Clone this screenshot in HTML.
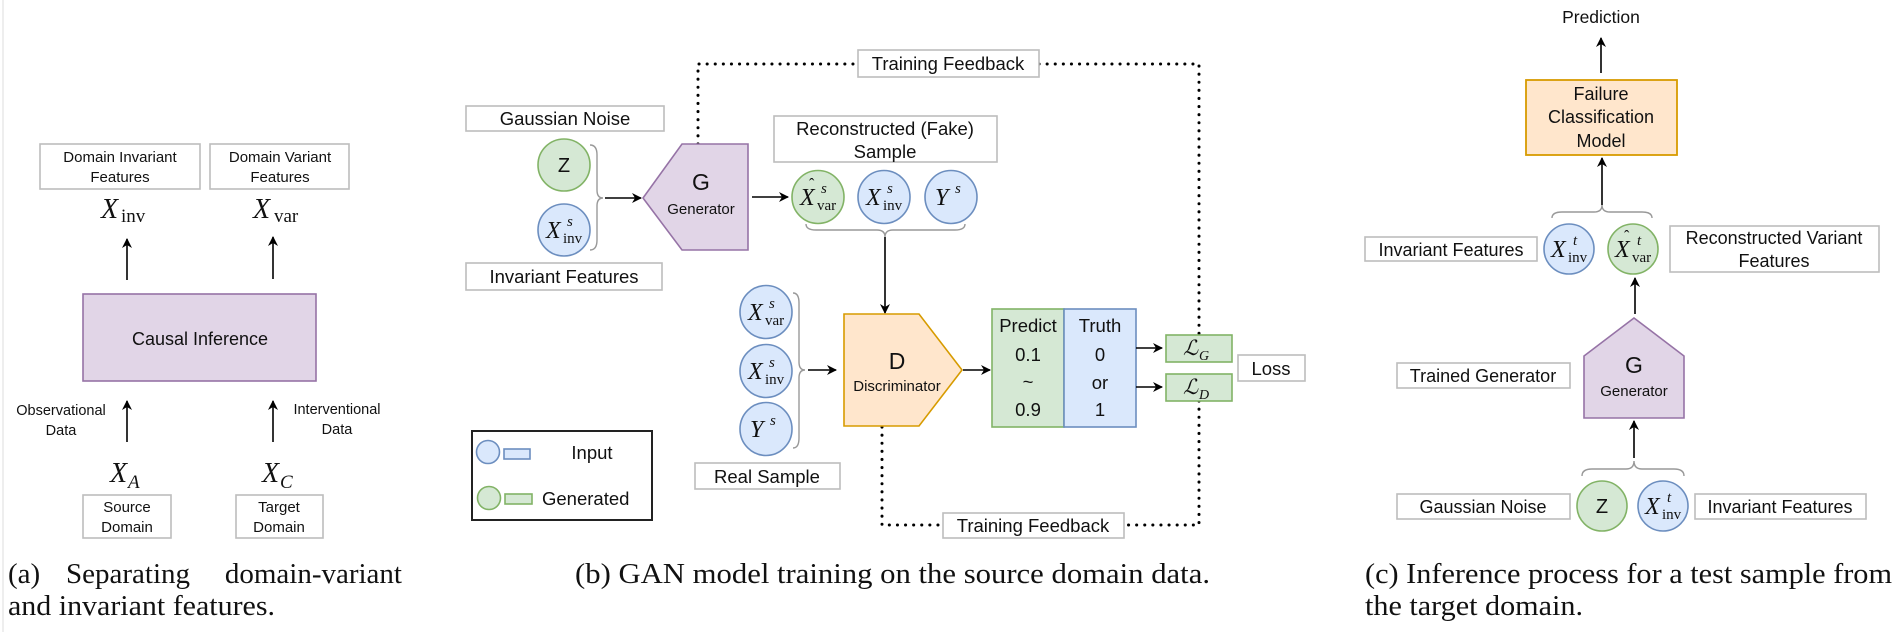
<!DOCTYPE html>
<html><head><meta charset="utf-8"><style>
html,body{margin:0;padding:0;background:#fff;}
svg{display:block;}
.s{font-family:"Liberation Sans",sans-serif;fill:#111;}
.m{font-family:"Liberation Serif","DejaVu Serif",serif;fill:#111;}
.cap{font-family:"Liberation Serif",serif;fill:#111;font-size:29px;}
.bx{fill:#fff;stroke:#bdbdbd;stroke-width:1.6;}
.bl{fill:#dae8fc;stroke:#6c8ebf;stroke-width:1.6;}
.gr{fill:#d5e8d4;stroke:#82b366;stroke-width:1.6;}
.ar{stroke:#000;stroke-width:1.6;fill:none;marker-end:url(#ah);}
.br{stroke:#999;stroke-width:1.4;fill:none;}
.dt{stroke:#000;stroke-width:3;fill:none;stroke-dasharray:0.1 8;stroke-linecap:round;}
</style></head><body>
<svg width="1895" height="632" viewBox="0 0 1895 632" xmlns="http://www.w3.org/2000/svg">
<defs><marker id="ah" markerWidth="10" markerHeight="10" refX="9" refY="5" orient="auto" markerUnits="userSpaceOnUse"><path d="M0,0 L10,5 L0,10 L3,5 Z" fill="#000"/></marker></defs>
<line x1="3" y1="0" x2="3" y2="632" stroke="#eee" stroke-width="2"/>

<!-- Panel (a) -->
<rect class="bx" x="40" y="144" width="160" height="45"/>
<text class="s" font-size="15" text-anchor="middle" x="120" y="162">Domain Invariant</text>
<text class="s" font-size="15" text-anchor="middle" x="120" y="182">Features</text>
<rect class="bx" x="210" y="144" width="139" height="45"/>
<text class="s" font-size="15" text-anchor="middle" x="280" y="162">Domain Variant</text>
<text class="s" font-size="15" text-anchor="middle" x="280" y="182">Features</text>
<text class="m" x="101" y="218" font-size="28" font-style="italic">X</text><text class="m" x="121" y="222" font-size="19">inv</text>
<text class="m" x="253" y="218" font-size="28" font-style="italic">X</text><text class="m" x="274" y="222" font-size="19">var</text>
<line class="ar" x1="127" y1="280" x2="127" y2="239"/>
<line class="ar" x1="273" y1="279" x2="273" y2="237"/>
<rect x="83" y="294" width="233" height="87" fill="#e1d5e7" stroke="#9673a6" stroke-width="1.6"/>
<text class="s" font-size="18" text-anchor="middle" x="200" y="345">Causal Inference</text>
<line class="ar" x1="127" y1="442" x2="127" y2="401"/>
<text class="s" font-size="14.5" text-anchor="middle" x="61" y="415">Observational</text>
<text class="s" font-size="14.5" text-anchor="middle" x="61" y="435">Data</text>
<line class="ar" x1="273" y1="442" x2="273" y2="401"/>
<text class="s" font-size="14.5" text-anchor="middle" x="337" y="414">Interventional</text>
<text class="s" font-size="14.5" text-anchor="middle" x="337" y="434">Data</text>
<text class="m" x="110" y="482" font-size="28" font-style="italic">X</text><text class="m" x="128" y="488" font-size="19" font-style="italic">A</text>
<text class="m" x="262" y="482" font-size="28" font-style="italic">X</text><text class="m" x="280" y="488" font-size="19" font-style="italic">C</text>
<rect class="bx" x="83" y="495" width="88" height="43"/>
<text class="s" font-size="15" text-anchor="middle" x="127" y="512">Source</text>
<text class="s" font-size="15" text-anchor="middle" x="127" y="532">Domain</text>
<rect class="bx" x="236" y="495" width="87" height="43"/>
<text class="s" font-size="15" text-anchor="middle" x="279" y="512">Target</text>
<text class="s" font-size="15" text-anchor="middle" x="279" y="532">Domain</text>
<text class="cap" x="8" y="583">(a)</text>
<text class="cap" x="66" y="583">Separating</text>
<text class="cap" x="402" y="583" text-anchor="end">domain-variant</text>
<text class="cap" x="8" y="615" textLength="267" lengthAdjust="spacingAndGlyphs">and invariant features.</text>

<!-- Panel (b) -->
<polyline class="dt" points="698,144 698,64 858,64"/>
<polyline class="dt" points="1039,64 1199,64 1199,335"/>
<rect class="bx" x="858" y="50" width="181" height="27"/>
<text class="s" font-size="18.5" text-anchor="middle" x="948" y="70">Training Feedback</text>
<polyline class="dt" points="1199,401 1199,525 1124,525"/>
<polyline class="dt" points="882,427 882,525 943,525"/>
<rect class="bx" x="943" y="513" width="181" height="25"/>
<text class="s" font-size="18.5" text-anchor="middle" x="1033" y="532">Training Feedback</text>

<rect class="bx" x="466" y="106" width="198" height="25"/>
<text class="s" font-size="18.5" text-anchor="middle" x="565" y="125">Gaussian Noise</text>
<ellipse class="gr" cx="564" cy="165" rx="26" ry="26"/>
<text class="s" font-size="20" text-anchor="middle" x="564" y="172">Z</text>
<ellipse class="bl" cx="564" cy="230" rx="26" ry="26"/>
<text class="m" x="546" y="238" font-size="24" font-style="italic">X</text><text class="m" x="567" y="226" font-size="15" font-style="italic">s</text><text class="m" x="563" y="243" font-size="15">inv</text>
<path class="br" d="M590,145 Q597,145 597,155 L597,190 Q597,198 603,198 Q597,198 597,206 L597,240 Q597,250 590,250"/>
<line class="ar" x1="605" y1="198" x2="641" y2="198"/>
<rect class="bx" x="466" y="263" width="196" height="27"/>
<text class="s" font-size="18.5" text-anchor="middle" x="564" y="283">Invariant Features</text>
<polygon points="682,144 748,144 748,250 682,250 643,198" fill="#e1d5e7" stroke="#9673a6" stroke-width="1.6"/>
<text class="s" font-size="23" text-anchor="middle" x="701" y="190">G</text>
<text class="s" font-size="15" text-anchor="middle" x="701" y="214">Generator</text>
<line class="ar" x1="752" y1="197" x2="788" y2="197"/>
<rect class="bx" x="774" y="116" width="223" height="46"/>
<text class="s" font-size="18.5" text-anchor="middle" x="885" y="135">Reconstructed (Fake)</text>
<text class="s" font-size="18.5" text-anchor="middle" x="885" y="158">Sample</text>
<ellipse class="gr" cx="818" cy="197" rx="26" ry="26.5"/>
<text class="m" x="800" y="205" font-size="24" font-style="italic">X</text><text class="m" x="809" y="189" font-size="16">ˆ</text><text class="m" x="821" y="193" font-size="15" font-style="italic">s</text><text class="m" x="817" y="210" font-size="15">var</text>
<ellipse class="bl" cx="884" cy="197" rx="26" ry="26.5"/>
<text class="m" x="866" y="205" font-size="24" font-style="italic">X</text><text class="m" x="887" y="193" font-size="15" font-style="italic">s</text><text class="m" x="883" y="210" font-size="15">inv</text>
<ellipse class="bl" cx="951" cy="197" rx="26" ry="26.5"/>
<text class="m" x="935" y="205" font-size="24" font-style="italic">Y</text><text class="m" x="955" y="193" font-size="15" font-style="italic">s</text>
<path class="br" d="M806,224 Q806,230 816,230 L877,230 Q885,230 885,237 Q885,230 893,230 L955,230 Q965,230 965,224"/>
<line class="ar" x1="885" y1="237" x2="885" y2="313"/>

<ellipse class="bl" cx="766" cy="312" rx="26" ry="26.5"/>
<text class="m" x="748" y="320" font-size="24" font-style="italic">X</text><text class="m" x="769" y="308" font-size="15" font-style="italic">s</text><text class="m" x="765" y="325" font-size="15">var</text>
<ellipse class="bl" cx="766" cy="371" rx="26" ry="26.5"/>
<text class="m" x="748" y="379" font-size="24" font-style="italic">X</text><text class="m" x="769" y="367" font-size="15" font-style="italic">s</text><text class="m" x="765" y="384" font-size="15">inv</text>
<ellipse class="bl" cx="766" cy="429" rx="26" ry="26.5"/>
<text class="m" x="750" y="437" font-size="24" font-style="italic">Y</text><text class="m" x="770" y="425" font-size="15" font-style="italic">s</text>
<path class="br" d="M793,293 Q799,293 799,303 L799,362 Q799,370 805,370 Q799,370 799,378 L799,438 Q799,448 793,448"/>
<line class="ar" x1="808" y1="370" x2="836" y2="370"/>
<rect class="bx" x="695" y="463" width="145" height="26"/>
<text class="s" font-size="18.5" text-anchor="middle" x="767" y="483">Real Sample</text>
<polygon points="844,314 919,314 962,370 919,426 844,426" fill="#ffe6cc" stroke="#d79b00" stroke-width="1.6"/>
<text class="s" font-size="23" text-anchor="middle" x="897" y="369">D</text>
<text class="s" font-size="15" text-anchor="middle" x="897" y="391">Discriminator</text>
<line class="ar" x1="963" y1="370" x2="990" y2="370"/>

<rect x="472" y="431" width="180" height="89" fill="#fff" stroke="#222" stroke-width="2"/>
<circle class="bl" cx="488" cy="452" r="11.5"/>
<rect class="bl" x="504" y="449" width="26" height="10"/>
<text class="s" font-size="18.5" text-anchor="middle" x="592" y="459">Input</text>
<circle class="gr" cx="489" cy="498" r="11.5"/>
<rect class="gr" x="505" y="494" width="27" height="10"/>
<text class="s" font-size="18.5" x="542" y="505">Generated</text>

<rect class="gr" x="992" y="309" width="72" height="118"/>
<rect class="bl" x="1064" y="309" width="72" height="118"/>
<g class="s" font-size="18.5" text-anchor="middle">
<text x="1028" y="332">Predict</text><text x="1028" y="361">0.1</text><text x="1028" y="388">~</text><text x="1028" y="416">0.9</text>
<text x="1100" y="332">Truth</text><text x="1100" y="361">0</text><text x="1100" y="389">or</text><text x="1100" y="416">1</text>
</g>
<line class="ar" x1="1136" y1="348" x2="1162" y2="348"/>
<line class="ar" x1="1136" y1="387" x2="1162" y2="387"/>
<rect class="gr" x="1166" y="335" width="66" height="27"/>
<text class="m" x="1183" y="355" font-size="21" font-style="italic">ℒ</text><text class="m" x="1199" y="360" font-size="14" font-style="italic">G</text>
<rect class="gr" x="1166" y="374" width="66" height="27"/>
<text class="m" x="1183" y="394" font-size="21" font-style="italic">ℒ</text><text class="m" x="1199" y="399" font-size="14" font-style="italic">D</text>
<rect class="bx" x="1238" y="355" width="67" height="26"/>
<text class="s" font-size="18.5" text-anchor="middle" x="1271" y="375">Loss</text>
<text class="cap" x="575" y="583" textLength="635" lengthAdjust="spacingAndGlyphs">(b) GAN model training on the source domain data.</text>

<!-- Panel (c) -->
<text class="s" font-size="17.5" text-anchor="middle" x="1601" y="23">Prediction</text>
<line class="ar" x1="1601" y1="73" x2="1601" y2="38"/>
<rect x="1526" y="80" width="151" height="75" fill="#ffe6cc" stroke="#d79b00" stroke-width="1.8"/>
<text class="s" font-size="18" text-anchor="middle" x="1601" y="100">Failure</text>
<text class="s" font-size="18" text-anchor="middle" x="1601" y="123">Classification</text>
<text class="s" font-size="18" text-anchor="middle" x="1601" y="147">Model</text>
<path class="br" d="M1552,218 Q1552,212 1562,212 L1594,212 Q1602,212 1602,205 Q1602,212 1610,212 L1642,212 Q1652,212 1652,218"/>
<line class="ar" x1="1602" y1="205" x2="1602" y2="158"/>
<ellipse class="bl" cx="1569" cy="249" rx="25" ry="25"/>
<text class="m" x="1551" y="257" font-size="24" font-style="italic">X</text><text class="m" x="1573" y="245" font-size="15" font-style="italic">t</text><text class="m" x="1568" y="262" font-size="15">inv</text>
<ellipse class="gr" cx="1633" cy="249" rx="25" ry="25"/>
<text class="m" x="1615" y="257" font-size="24" font-style="italic">X</text><text class="m" x="1624" y="241" font-size="16">ˆ</text><text class="m" x="1637" y="245" font-size="15" font-style="italic">t</text><text class="m" x="1632" y="262" font-size="15">var</text>
<rect class="bx" x="1365" y="237" width="172" height="24"/>
<text class="s" font-size="18" text-anchor="middle" x="1451" y="256">Invariant Features</text>
<rect class="bx" x="1670" y="226" width="209" height="46"/>
<text class="s" font-size="18" text-anchor="middle" x="1774" y="244">Reconstructed Variant</text>
<text class="s" font-size="18" text-anchor="middle" x="1774" y="267">Features</text>
<line class="ar" x1="1635" y1="314" x2="1635" y2="278"/>
<polygon points="1634,318 1684,356 1684,418 1584,418 1584,356" fill="#e1d5e7" stroke="#9673a6" stroke-width="1.6"/>
<text class="s" font-size="23" text-anchor="middle" x="1634" y="373">G</text>
<text class="s" font-size="15" text-anchor="middle" x="1634" y="396">Generator</text>
<rect class="bx" x="1397" y="363" width="173" height="25"/>
<text class="s" font-size="18" text-anchor="middle" x="1483" y="382">Trained Generator</text>
<line class="ar" x1="1634" y1="458" x2="1634" y2="421"/>
<path class="br" d="M1582,476 Q1582,469 1592,469 L1626,469 Q1634,469 1634,461 Q1634,469 1642,469 L1674,469 Q1684,469 1684,476"/>
<ellipse class="gr" cx="1602" cy="506" rx="25" ry="25"/>
<text class="s" font-size="20" text-anchor="middle" x="1602" y="513">Z</text>
<ellipse class="bl" cx="1663" cy="506" rx="25" ry="25"/>
<text class="m" x="1645" y="514" font-size="24" font-style="italic">X</text><text class="m" x="1667" y="502" font-size="15" font-style="italic">t</text><text class="m" x="1662" y="519" font-size="15">inv</text>
<rect class="bx" x="1397" y="494" width="173" height="25"/>
<text class="s" font-size="18" text-anchor="middle" x="1483" y="513">Gaussian Noise</text>
<rect class="bx" x="1695" y="494" width="171" height="25"/>
<text class="s" font-size="18" text-anchor="middle" x="1780" y="513">Invariant Features</text>
<text class="cap" x="1365" y="583" textLength="527" lengthAdjust="spacingAndGlyphs">(c) Inference process for a test sample from</text>
<text class="cap" x="1365" y="615" textLength="218" lengthAdjust="spacingAndGlyphs">the target domain.</text>
</svg>
</body></html>
